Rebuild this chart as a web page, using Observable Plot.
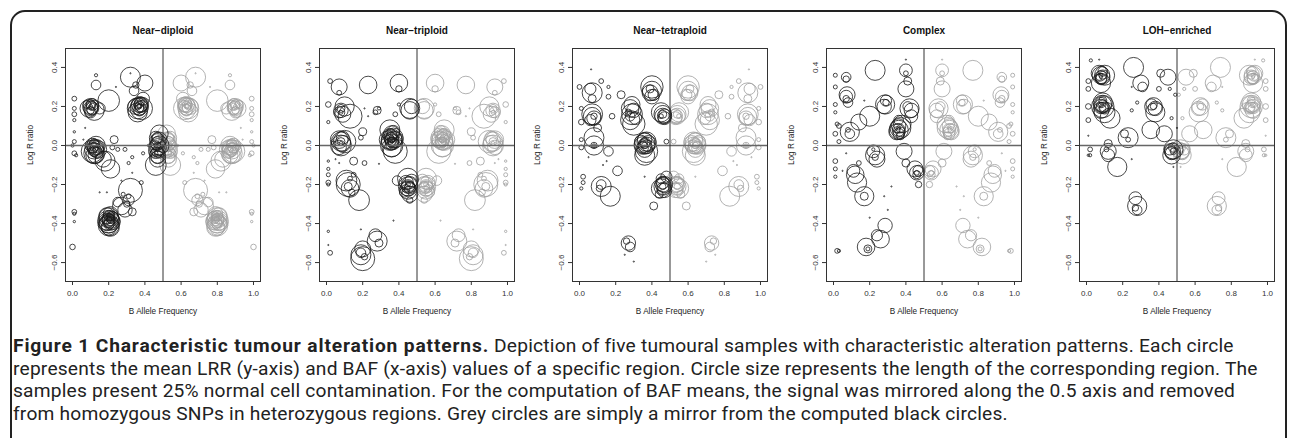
<!DOCTYPE html>
<html><head><meta charset="utf-8">
<script src="https://cdn.jsdelivr.net/npm/d3@7"></script>
<script src="https://cdn.jsdelivr.net/npm/@observablehq/plot@0.6"></script>
<style>
body{margin:0;background:#fff;width:1290px;height:438px;overflow:hidden;position:relative;font-family:"Liberation Sans",Arial,sans-serif}
#frame{position:absolute;left:10px;top:10px;width:1277px;height:480px;border:2px solid #222;border-radius:15px;box-sizing:border-box}
.panel{position:absolute;top:12px;width:254px;height:313px}
#caption{position:absolute;left:13px;top:335px;font-family:Roboto,sans-serif;font-size:19.2px;letter-spacing:0.2px;line-height:22.7px;color:#222;white-space:nowrap}
#caption b{font-weight:700;letter-spacing:0.85px}
</style></head><body>
<div id="frame"></div>
<div id="panels"></div>
<div id="caption"><b>Figure 1 Characteristic tumour alteration patterns.</b> Depiction of five tumoural samples with characteristic alteration patterns. Each circle<br>represents the mean LRR (y-axis) and BAF (x-axis) values of a specific region. Circle size represents the length of the corresponding region. The<br>samples present 25% normal cell contamination. For the computation of BAF means, the signal was mirrored along the 0.5 axis and removed<br>from homozygous SNPs in heterozygous regions. Grey circles are simply a mirror from the computed black circles.</div>
<script>
// Panel titles and axis texts
const panelTitles = ["Near\u2212diploid", "Near\u2212triploid", "Near\u2212tetraploid", "Complex", "LOH\u2212enriched"];
const xLabel = "B Allele Frequency";
const yLabel = "Log R ratio";
const xTicks = [0, 0.2, 0.4, 0.6, 0.8, 1.0];
const yTicks = [-0.6, -0.4, -0.2, 0, 0.2, 0.4];

// Black circles: [B allele frequency, log R ratio, region length]
const nearDiploid = [
 [0.20,-0.37,25],[0.21,-0.38,22],[0.20,-0.40,24],[0.19,-0.36,20],[0.21,-0.35,18],[0.20,-0.39,28],[0.22,-0.37,15],[0.19,-0.38,12],[0.20,-0.41,26],[0.21,-0.36,10],[0.20,-0.38,6],[0.19,-0.40,18],[0.21,-0.42,22],[0.22,-0.39,20],
 [0.20,-0.38,16],[0.21,-0.37,8],[0.20,-0.36,13],[0.19,-0.39,21],[0.21,-0.40,17],[0.20,-0.37,3],[0.21,-0.39,11],[0.20,-0.42,19],[0.20,-0.39,14],[0.21,-0.38,9],
 [0.27,-0.31,22],[0.29,-0.33,18],[0.31,-0.28,14],[0.32,-0.23,30],[0.30,-0.30,8],[0.33,-0.34,10],[0.25,-0.29,12],[0.31,-0.26,6],[0.28,-0.25,5],
 [0.12,-0.02,24],[0.13,-0.01,20],[0.12,-0.04,26],[0.11,0.0,18],[0.13,-0.03,15],[0.12,-0.01,10],[0.14,-0.02,22],[0.11,-0.03,28],[0.12,0.01,12],[0.13,-0.05,20],[0.12,-0.03,6],
 [0.12,-0.02,17],[0.13,-0.02,8],[0.12,-0.05,21],[0.11,-0.01,14],[0.13,0.0,23],[0.12,-0.02,3],[0.12,-0.03,13],
 [0.18,-0.08,25],[0.21,-0.12,23],[0.17,-0.07,20],[0.23,0.03,10],[0.22,-0.01,6],[0.25,-0.02,5],
 [0.10,0.20,20],[0.11,0.19,16],[0.10,0.21,12],[0.09,0.19,22],[0.11,0.20,8],[0.12,0.18,25],[0.10,0.17,14],[0.08,0.21,10],[0.10,0.20,5],[0.20,0.23,27],[0.15,0.19,14],[0.13,0.31,12],[0.13,0.36,4],
 [0.10,0.19,18],[0.11,0.21,15],[0.10,0.18,9],
 [0.37,0.20,22],[0.36,0.19,26],[0.38,0.21,18],[0.37,0.18,14],[0.36,0.21,10],[0.38,0.19,28],[0.37,0.22,12],[0.35,0.20,20],[0.37,0.20,6],[0.36,0.17,24],
 [0.37,0.19,17],[0.37,0.21,20],[0.36,0.20,8],[0.38,0.20,15],[0.37,0.19,11],
 [0.32,0.35,25],[0.40,0.32,20],[0.34,0.28,12],[0.39,0.24,16],[0.35,0.31,8],
 [0.47,0.02,20],[0.47,-0.01,22],[0.46,-0.03,18],[0.48,0.0,24],[0.47,-0.05,20],[0.46,0.04,16],[0.48,-0.02,14],[0.47,-0.07,20],[0.46,-0.10,26],[0.48,0.06,22],[0.45,-0.04,10],[0.47,0.0,8],[0.48,-0.04,12],
 [0.47,0.01,17],[0.47,-0.03,15],[0.46,0.0,12],[0.48,0.03,19],[0.47,-0.02,5],[0.47,0.04,14],[0.47,-0.06,16],
 [0.01,0.24,6],[0.01,0.19,5],[0.01,0.16,6],[0.01,0.13,4],[0.01,0.07,3],[0.01,0.02,5],[0.00,0.00,4],[0.01,-0.04,6],[0.02,-0.05,4],[0.01,-0.34,6],[0.01,-0.35,4],[0.01,-0.39,3],[0.00,-0.52,7],
 [0.29,-0.02,5],[0.33,-0.06,4],[0.31,-0.09,4],[0.38,-0.19,5],[0.39,-0.04,4],[0.42,0.0,3],
 [0.07,0.09,1.5],[0.15,-0.24,1.5],[0.19,-0.24,1.5],[0.33,-0.14,1.5],[0.27,-0.18,1.5],[0.32,0.37,1.5],[0.38,0.23,1.5],[0.24,0.30,1.5],[0.06,0.03,1.5]
];
const nearTriploid = [
 [0.36,0.03,26],[0.35,0.02,22],[0.37,0.04,24],[0.36,0.0,28],[0.36,0.06,20],[0.35,0.05,18],[0.37,0.01,14],[0.36,0.02,10],[0.34,0.03,22],[0.38,0.03,20],[0.36,-0.01,24],[0.37,0.07,16],[0.36,0.04,6],[0.38,-0.03,30],[0.35,0.08,25],
 [0.36,0.03,18],[0.36,0.01,16],[0.37,0.03,21],[0.35,0.03,12],[0.36,0.05,14],[0.36,0.02,3],[0.36,0.03,8],
 [0.45,-0.21,24],[0.46,-0.20,20],[0.45,-0.23,22],[0.44,-0.19,18],[0.46,-0.22,14],[0.45,-0.17,26],[0.46,-0.25,20],[0.44,-0.22,10],[0.47,-0.18,16],[0.45,-0.20,6],[0.43,-0.24,12],[0.46,-0.28,8],[0.39,-0.18,12],
 [0.45,-0.21,17],[0.46,-0.21,12],[0.45,-0.22,19],
 [0.08,0.02,24],[0.09,0.01,20],[0.07,0.03,22],[0.08,0.0,26],[0.09,0.04,16],[0.08,0.02,10],[0.07,-0.01,18],[0.10,0.02,28],[0.08,0.01,5],[0.04,0.01,6],[0.15,-0.08,10],[0.21,-0.09,6],[0.20,0.07,10],[0.19,0.04,6],
 [0.08,0.18,18],[0.07,0.17,14],[0.09,0.16,20],[0.08,0.19,10],[0.13,0.15,30],[0.10,0.20,24],[0.08,0.17,5],[0.07,0.27,6],[0.07,0.30,20],[0.02,0.33,6],[0.23,0.31,22],[0.40,0.32,22],[0.40,0.29,8],
 [0.28,0.18,10],[0.27,0.17,6],[0.29,0.19,4],[0.46,0.19,25],[0.46,0.18,22],[0.47,0.20,18],[0.38,0.16,6],[0.40,0.21,4],
 [0.12,-0.20,30],[0.11,-0.18,26],[0.13,-0.22,22],[0.12,-0.21,10],[0.18,-0.28,26],[0.14,-0.24,8],[0.13,-0.17,6],[0.15,-0.15,6],
 [0.28,-0.49,25],[0.27,-0.46,16],[0.29,-0.50,10],[0.19,-0.56,25],[0.20,-0.58,30],[0.19,-0.55,12],[0.21,-0.57,8],[0.20,-0.53,20],
 [0.01,0.21,7],[0.01,0.12,4],[0.01,-0.08,3],[0.01,-0.12,4],[0.01,-0.15,5],[0.01,-0.19,6],[0.01,-0.20,4],[0.01,-0.44,3],[0.01,-0.51,1.5],[0.02,-0.55,6],
 [0.37,-0.385,1.5],[0.19,-0.43,1.5],[0.29,-0.094,1.5],[0.05,-0.07,1.5],[0.07,-0.09,1.5],[0.23,0.15,1.5],[0.21,0.19,1.5]
];
const nearTetraploid = [
 [0.36,0.01,26],[0.35,0.0,22],[0.37,0.02,24],[0.36,-0.02,20],[0.36,0.03,18],[0.35,-0.01,14],[0.37,-0.03,28],[0.36,0.0,8],[0.34,0.02,16],[0.38,0.01,20],[0.36,-0.05,25],
 [0.36,0.0,17],[0.36,0.01,12],[0.37,0.0,21],
 [0.46,0.16,22],[0.47,0.15,18],[0.45,0.17,24],[0.46,0.16,10],[0.47,0.14,16],[0.45,0.15,6],[0.46,0.15,20],
 [0.28,0.19,22],[0.29,0.16,26],[0.28,0.13,24],[0.30,0.18,18],[0.28,0.15,12],[0.29,0.21,20],[0.27,0.17,8],[0.30,0.11,28],[0.31,0.14,16],
 [0.40,0.28,24],[0.39,0.27,20],[0.40,0.30,28],[0.41,0.26,14],[0.39,0.29,10],[0.40,0.25,18],
 [0.46,-0.21,22],[0.47,-0.20,20],[0.45,-0.22,24],[0.46,-0.19,16],[0.47,-0.23,18],[0.46,-0.21,8],[0.45,-0.17,12],[0.48,-0.16,14],[0.44,-0.25,10],[0.41,-0.31,10],
 [0.46,-0.22,15],[0.46,-0.20,19],
 [0.07,0.15,22],[0.08,0.14,18],[0.07,0.16,26],[0.06,0.13,14],[0.08,0.15,8],[0.07,0.27,25],[0.06,0.29,14],[0.07,0.24,10],[0.10,0.09,10],
 [0.08,0.0,24],[0.08,0.04,25],[0.08,0.0,8],[0.08,0.0,4],[0.16,-0.03,12],
 [0.12,-0.21,25],[0.17,-0.26,25],[0.12,-0.20,12],[0.11,-0.22,8],[0.21,-0.13,12],
 [0.27,-0.50,18],[0.26,-0.49,8],[0.28,-0.52,12],
 [0.00,0.30,6],[0.01,0.19,5],[0.01,0.12,7],[0.01,0.03,5],[0.01,-0.01,6],[0.02,-0.16,6],[0.02,-0.19,5],[0.01,-0.22,4],
 [0.12,0.33,6],[0.16,0.25,6],[0.23,0.26,10],[0.18,0.15,7],[0.48,0.02,6],[0.16,0.30,4],
 [0.064,0.39,1.5],[0.30,-0.595,1.5],[0.25,-0.56,1.5],[0.13,-0.10,1.5],[0.15,-0.08,1.5],[0.05,-0.06,1.5],[0.36,-0.16,1.5]
];
const complex = [
 [0.23,0.385,25],[0.40,0.385,16],[0.40,0.29,20],[0.41,0.33,10],[0.40,0.37,6],
 [0.07,0.35,12],[0.07,0.34,8],[0.07,0.25,16],[0.075,0.26,20],[0.07,0.24,8],[0.08,0.22,12],
 [0.285,0.21,24],[0.28,0.20,18],[0.29,0.23,14],[0.29,0.22,8],[0.20,0.15,25],
 [0.42,0.19,24],[0.43,0.18,18],[0.41,0.20,12],[0.43,0.15,16],
 [0.36,0.08,24],[0.35,0.07,20],[0.37,0.09,26],[0.36,0.06,14],[0.36,0.10,18],[0.35,0.08,8],[0.37,0.05,10],[0.38,0.11,22],[0.36,0.13,12],
 [0.36,0.08,16],[0.37,0.07,12],[0.36,0.09,5],
 [0.09,0.07,24],[0.14,0.12,20],[0.09,0.06,12],[0.08,0.08,6],[0.03,0.10,6],[0.03,0.02,5],
 [0.23,-0.05,24],[0.24,-0.07,20],[0.22,-0.03,16],[0.23,-0.06,8],[0.22,-0.02,4],[0.39,-0.03,20],[0.40,-0.09,10],
 [0.46,-0.14,18],[0.47,-0.13,14],[0.46,-0.15,10],[0.47,-0.20,8],[0.45,-0.12,20],[0.46,-0.14,6],
 [0.12,-0.15,22],[0.11,-0.13,16],[0.13,-0.19,24],[0.17,-0.26,24],[0.17,-0.26,10],[0.14,-0.09,6],
 [0.285,-0.41,18],[0.26,-0.48,22],[0.24,-0.46,14],[0.18,-0.52,22],[0.19,-0.53,10],[0.19,-0.53,5],
 [0.01,0.36,5],[0.01,0.30,5],[0.01,0.21,5],[0.01,0.17,4],[0.02,0.11,5],[0.01,0.06,6],[0.01,-0.08,6],[0.01,-0.12,5],[0.01,-0.16,4],[0.02,-0.54,6],[0.03,-0.54,4],
 [0.40,0.44,1.5],[0.07,-0.04,1.5],[0.05,-0.13,1.5],[0.28,-0.26,1.5],[0.30,-0.33,1.5],[0.20,-0.37,1.5],[0.32,-0.21,1.5],[0.17,0.23,1.5]
];
const lohEnriched = [
 [0.08,0.36,22],[0.09,0.35,18],[0.07,0.37,20],[0.08,0.34,14],[0.09,0.38,12],[0.08,0.32,24],[0.07,0.35,8],[0.10,0.36,25],[0.08,0.36,5],
 [0.08,0.35,16],[0.09,0.36,10],
 [0.09,0.21,22],[0.08,0.20,18],[0.09,0.22,24],[0.08,0.18,20],[0.10,0.19,14],[0.09,0.23,10],[0.08,0.21,6],[0.10,0.17,26],[0.09,0.20,28],[0.13,0.14,25],
 [0.09,0.20,16],[0.08,0.22,13],[0.09,0.19,8],
 [0.26,0.40,25],[0.30,0.32,20],[0.31,0.30,12],[0.45,0.35,20],[0.41,0.37,10],
 [0.37,0.20,22],[0.38,0.19,18],[0.36,0.21,14],[0.37,0.20,8],[0.38,0.17,24],
 [0.355,0.08,22],[0.43,0.06,20],[0.23,0.04,25],[0.21,0.06,10],[0.23,0.03,6],
 [0.475,-0.03,20],[0.48,-0.02,24],[0.47,-0.04,16],[0.48,-0.01,12],[0.47,-0.05,22],[0.48,-0.03,8],[0.46,-0.02,14],
 [0.12,-0.03,20],[0.12,-0.05,16],[0.17,-0.11,24],[0.12,0.01,10],[0.11,-0.02,6],
 [0.28,-0.31,24],[0.27,-0.27,16],[0.28,-0.33,12],[0.27,-0.32,8],
 [0.024,0.436,4],[0.01,0.33,6],[0.01,0.29,6],[0.01,0.20,7],[0.01,0.13,6],[0.02,-0.02,6],[0.02,-0.05,4],[0.01,-0.05,3],
 [0.40,0.29,6],[0.46,0.29,4],[0.49,0.26,4],[0.28,0.22,4],[0.25,0.18,4],[0.47,0.14,4],
 [0.07,0.44,1.5],[0.01,0.05,1.5],[0.25,-0.07,1.5],[0.50,0.09,1.5],[0.48,-0.11,1.5],[0.25,0.30,1.5]
];
const panelData = [nearDiploid, nearTriploid, nearTetraploid, complex, lohEnriched];

const container = document.getElementById("panels");
panelData.forEach((rows, i) => {
  const black = rows.map(([baf, lrr, len]) => ({baf, lrr, len}));
  const grey = rows.map(([baf, lrr, len]) => ({baf: 1 - baf, lrr, len}));
  const chart = Plot.plot({
    width: 254, height: 313,
    marginLeft: 55, marginRight: 4, marginTop: 36, marginBottom: 44,
    style: {fontFamily: "'Liberation Sans', Arial, sans-serif", fontSize: "8px", color: "#333", background: "transparent", overflow: "visible", maxWidth: "none"},
    x: {domain: [-0.0387, 1.0387]},
    y: {domain: [-0.697, 0.497]},
    r: {type: "linear", domain: [0, 40], range: [0, 16]},
    marks: [
      Plot.dot(grey, {x: "baf", y: "lrr", r: "len", stroke: "#a0a0a0", strokeWidth: 0.8}),
      Plot.dot(black, {x: "baf", y: "lrr", r: "len", stroke: "#1a1a1a", strokeWidth: 0.8}),
      Plot.ruleY([0], {stroke: "#666", strokeWidth: 1.6}),
      Plot.ruleX([0.5], {stroke: "#333", strokeWidth: 1}),
      Plot.frame({stroke: "#333"}),
      Plot.axisX({ticks: xTicks, tickFormat: d3.format(".1f"), tickSize: 4, tickPadding: 5, label: null}),
      Plot.axisY({ticks: yTicks, tickFormat: d3.format(".1f"), tickSize: 4, tickRotate: -90, label: null}),
      Plot.text([xLabel], {frameAnchor: "bottom", dy: 32, fontSize: 8.2, fill: "#222"}),
      Plot.text([yLabel], {frameAnchor: "left", dx: -35, rotate: -90, fontSize: 8.2, fill: "#222"}),
      Plot.text([panelTitles[i]], {frameAnchor: "top", dy: -22, fontSize: 10, fontWeight: "bold", fill: "#111"})
    ]
  });
  const holder = document.createElement("div");
  holder.className = "panel";
  holder.style.left = Math.round(10 + 253.6 * i) + "px";
  holder.appendChild(chart);
  container.appendChild(holder);
});
</script>
</body></html>
